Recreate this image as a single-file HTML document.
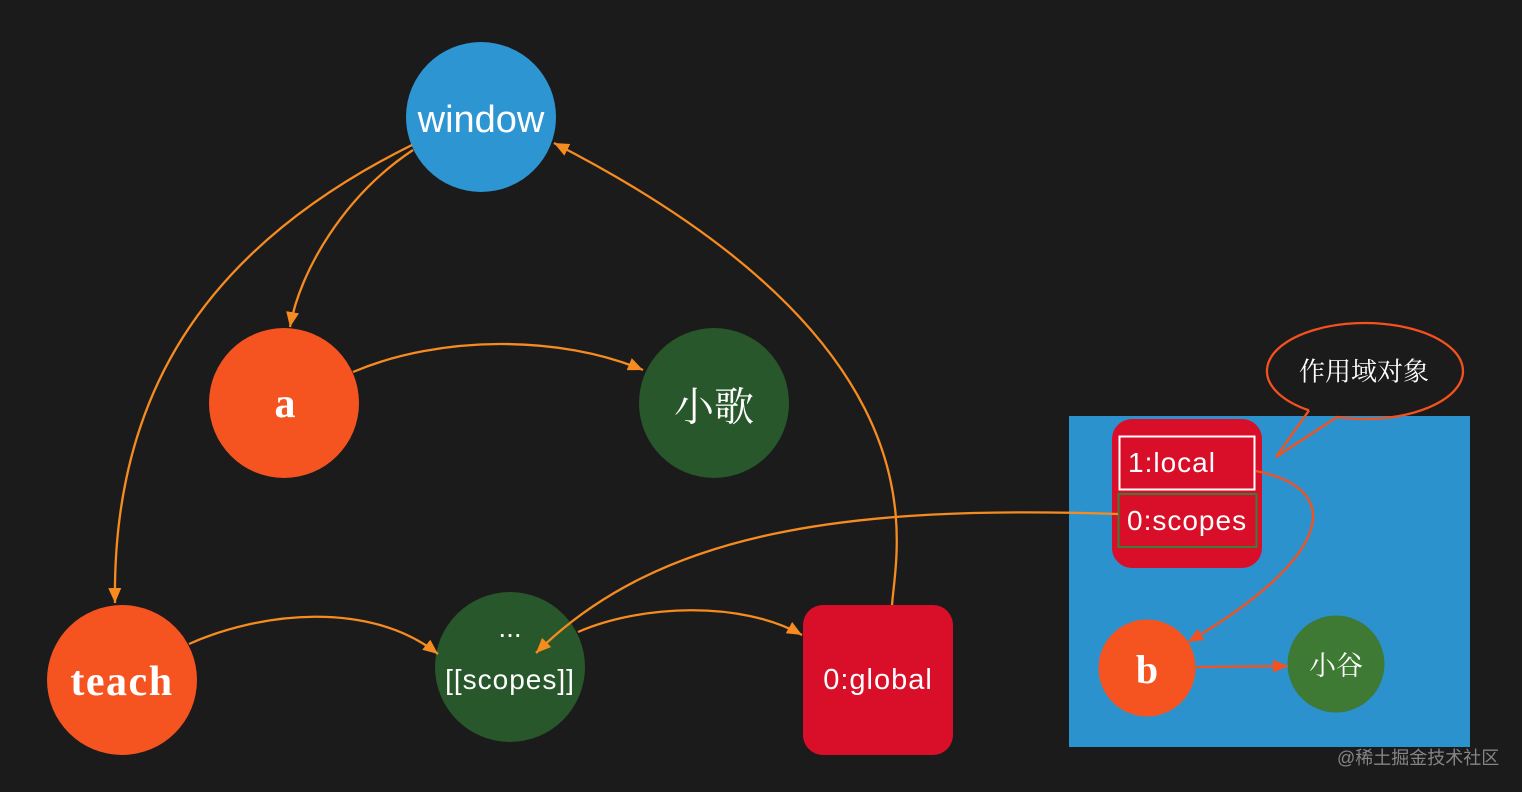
<!DOCTYPE html>
<html>
<head>
<meta charset="utf-8">
<style>
html,body{margin:0;padding:0;background:#1b1b1b;}
svg{display:block;}
</style>
</head>
<body>
<svg width="1522" height="792" viewBox="0 0 1522 792" xmlns="http://www.w3.org/2000/svg">
<defs>
<marker id="ao" markerUnits="userSpaceOnUse" markerWidth="18" markerHeight="16" refX="15" refY="6.5" orient="auto">
<path d="M0,0 L15,6.5 L0,13 Z" fill="#f68b20"/>
</marker>
<marker id="ar" markerUnits="userSpaceOnUse" markerWidth="18" markerHeight="16" refX="15" refY="6.5" orient="auto">
<path d="M0,0 L15,6.5 L0,13 Z" fill="#f4511e"/>
</marker>
</defs>
<rect x="0" y="0" width="1522" height="792" fill="#1b1b1b"/>

<!-- right panel -->
<rect x="1069" y="416" width="401" height="331" fill="#2c92ce"/>
<rect x="1112" y="419" width="150" height="149" rx="20" ry="20" fill="#d90e28"/>
<rect x="1119.5" y="436.5" width="135" height="53" fill="none" stroke="#ffffff" stroke-width="2"/>
<rect x="1118.5" y="494" width="138" height="53" fill="none" stroke="#3a7d3a" stroke-width="2"/>

<!-- nodes -->
<circle cx="481" cy="117" r="75" fill="#2d95d1"/>
<circle cx="284" cy="403" r="75" fill="#f55420"/>
<circle cx="714" cy="403" r="75" fill="#27572b"/>
<circle cx="122" cy="680" r="75" fill="#f55420"/>
<circle cx="510" cy="667" r="75" fill="#27572b"/>
<rect x="803" y="605" width="150" height="150" rx="20" ry="20" fill="#d90e28"/>
<circle cx="1147" cy="668" r="48.5" fill="#f55420"/>
<circle cx="1336" cy="664" r="48.5" fill="#3e7a34"/>

<!-- connectors -->
<g fill="none" stroke="#f68b20" stroke-width="2.3">
<path d="M412,145 C200,250 112,400 115,603" marker-end="url(#ao)"/>
<path d="M413,150 C345,195 300,270 290,327" marker-end="url(#ao)"/>
<path d="M353,372 C440,335 560,335 643,370" marker-end="url(#ao)"/>
<path d="M189,644 C260,612 370,600 438,654" marker-end="url(#ao)"/>
<path d="M578,632 C640,605 740,600 802,635" marker-end="url(#ao)"/>
<path d="M892,605 C897,540 948,345 554,143" marker-end="url(#ao)"/>
<path d="M1118,514 C850,505 660,530 536,653" marker-end="url(#ao)"/>
</g>
<g fill="none" stroke="#f4511e" stroke-width="2.3">
<path d="M1256,471 C1350,490 1328,560 1188,642" marker-end="url(#ar)"/>
<path d="M1196,667 L1288,666" marker-end="url(#ar)"/>
<path d="M1309,410.4 L1276,457 L1337,417 A98 48 0 1 0 1309,410.4"/>
</g>

<!-- labels -->
<g fill="#ffffff" text-anchor="middle">
<text x="481" y="132" font-family="Liberation Sans, sans-serif" font-size="38">window</text>
<text x="285" y="417" font-family="Liberation Serif, serif" font-weight="bold" font-size="42">a</text>
<text x="714" y="407" dominant-baseline="central" font-family="Liberation Serif, 'Noto Serif CJK SC', serif" font-size="40">小歌</text>
<text x="122" y="695" font-family="Liberation Serif, serif" font-weight="bold" font-size="42" letter-spacing="1.5">teach</text>
<text x="510" y="637" font-family="Liberation Sans, sans-serif" font-size="28">...</text>
<text x="510" y="689" font-family="Liberation Sans, sans-serif" font-size="28" letter-spacing="1">[[scopes]]</text>
<text x="878" y="689" font-family="Liberation Sans, sans-serif" font-size="29" letter-spacing="1">0:global</text>
<text x="1147" y="683" font-family="Liberation Serif, serif" font-weight="bold" font-size="40">b</text>
<text x="1336" y="666" dominant-baseline="central" font-family="Liberation Serif, 'Noto Serif CJK SC', serif" font-size="27">小谷</text>
<text x="1364" y="372" dominant-baseline="central" font-family="Liberation Serif, 'Noto Serif CJK SC', serif" font-size="26">作用域对象</text>
</g>
<g fill="#ffffff">
<text x="1128" y="472" font-family="Liberation Sans, sans-serif" font-size="28" letter-spacing="1">1:local</text>
<text x="1127" y="530" font-family="Liberation Sans, sans-serif" font-size="28" letter-spacing="1">0:scopes</text>
</g>
<text x="1337" y="758" dominant-baseline="central" fill="#858585" font-family="Liberation Sans, 'Noto Sans CJK SC', sans-serif" font-size="18">@稀土掘金技术社区</text>
</svg>
</body>
</html>
